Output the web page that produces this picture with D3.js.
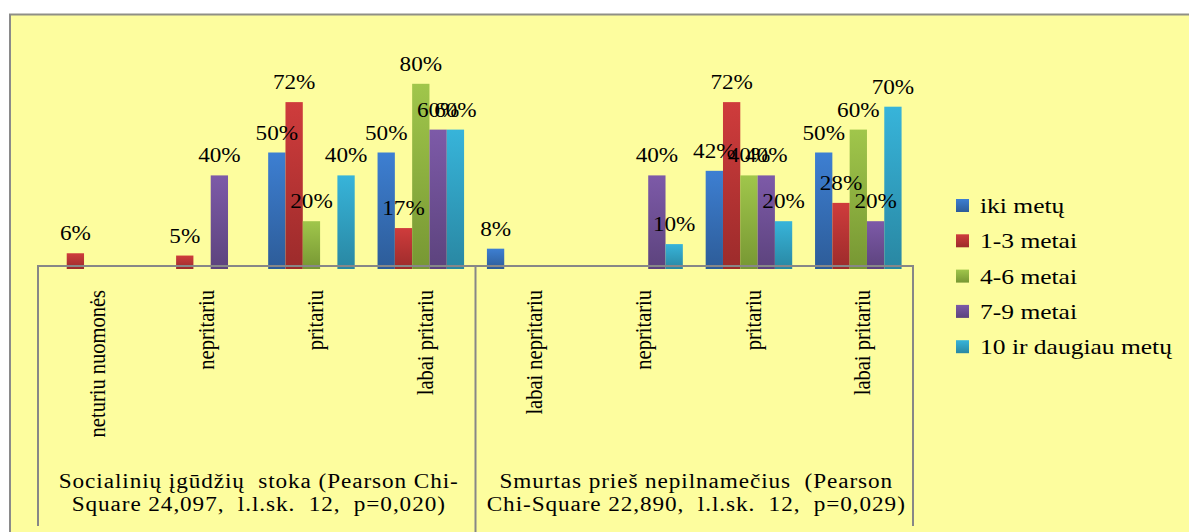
<!DOCTYPE html>
<html>
<head>
<meta charset="utf-8">
<script src="https://cdn.jsdelivr.net/npm/d3@7"></script>
<style>
  body { margin: 0; background: #fff; }
  svg text { font-family: "Liberation Serif", "Times New Roman", serif; fill: #000; }
</style>
</head>
<body>
<div id="chart"></div>
<script>
// chart data
const categories = ["neturiu nuomonės", "nepritariu", "pritariu", "labai pritariu",
                    "labai nepritariu", "nepritariu", "pritariu", "labai pritariu"];
const groupLines = [
  ["Socialinių įgūdžių  stoka (Pearson Chi-", "Square 24,097,  l.l.sk.  12,  p=0,020)"],
  ["Smurtas prieš nepilnamečius  (Pearson", "Chi-Square 22,890,  l.l.sk.  12,  p=0,029)"]
];
const series = ["iki metų", "1-3 metai", "4-6 metai", "7-9 metai", "10 ir daugiau metų"];
const ikiMetu   = [0, 0, 50, 50, 8, 0, 42, 50];
const metai1_3  = [6, 5, 72, 17, 0, 0, 72, 28];
const metai4_6  = [0, 0, 20, 80, 0, 0, 40, 60];
const metai7_9  = [0, 40, 0, 60, 0, 40, 40, 20];
const metai10   = [0, 0, 40, 60, 0, 10, 20, 70];
const seriesValues = [ikiMetu, metai1_3, metai4_6, metai7_9, metai10];

const colors = [
  ["#3d7fd2", "#2d5c98"],
  ["#cf3c3c", "#9c2b2b"],
  ["#a0c64b", "#779733"],
  ["#7d5aa8", "#5c437d"],
  ["#37b4da", "#2987a2"]
];

const W = 1189, H = 532;
const STRETCH = 1.16;
const FONT = "Liberation Serif";

let svg = d3.select("#chart").append("svg")
    .attr("width", W)
    .attr("height", H);

let defs = svg.append("defs");
colors.forEach(function(c, i) {
  let g = defs.append("linearGradient")
      .attr("id", "grad" + i)
      .attr("x1", 0).attr("y1", 0).attr("x2", 0).attr("y2", 1);
  g.append("stop").attr("offset", "0%").attr("stop-color", c[0]);
  g.append("stop").attr("offset", "100%").attr("stop-color", c[1]);
});

// chart area background + border
svg.append("rect")
    .attr("x", 10).attr("y", 15)
    .attr("width", W - 10).attr("height", H - 15)
    .attr("fill", "#fdfd9e");
svg.append("line")
    .attr("x1", 9).attr("x2", W).attr("y1", 14.5).attr("y2", 14.5)
    .attr("stroke", "#8f8f86").attr("stroke-width", 2);
svg.append("line")
    .attr("x1", 10).attr("x2", 10).attr("y1", 14).attr("y2", H)
    .attr("stroke", "#8a8a8a").attr("stroke-width", 2);

let x = d3.scaleBand()
    .domain(d3.range(categories.length))
    .range([38, 913]);

let xs = d3.scaleBand()
    .domain(d3.range(series.length))
    .range([0, x.bandwidth()])
    .paddingOuter(0.66);

let y = d3.scaleLinear()
    .domain([0, 100])
    .range([267, 38]);

// bars
let bars = [];
seriesValues.forEach(function(vals, s) {
  vals.forEach(function(v, c) {
    if (v > 0) bars.push({s: s, c: c, v: v});
  });
});

svg.append("g").selectAll("rect").data(bars).enter()
    .append("rect")
    .attr("x", function(d) { return x(d.c) + xs(d.s); })
    .attr("y", function(d) { return y(d.v); })
    .attr("width", xs.bandwidth())
    .attr("height", function(d) { return y(0) - y(d.v) + 2; })
    .attr("fill", function(d) { return "url(#grad" + d.s + ")"; });

// axis lines
let axisColor = "#878787";
let ax = svg.append("g").attr("stroke", axisColor).attr("stroke-width", 2);
ax.append("line").attr("x1", x.range()[0]).attr("x2", x.range()[1])
    .attr("y1", 266).attr("y2", 266);
[0, 4, 8].forEach(function(i) {
  let xx = i < 8 ? x(i) : x.range()[1];
  ax.append("line").attr("x1", xx).attr("x2", xx)
      .attr("y1", 265).attr("y2", i == 4 ? 532 : 526);
});

// value labels
svg.append("g").selectAll("text").data(bars).enter()
    .append("text")
    .attr("transform", function(d) {
      return `translate(${x(d.c) + xs(d.s) + xs.bandwidth() / 2}, ${y(d.v) - 13}) scale(${STRETCH},1)`;
    })
    .attr("font-family", FONT)
    .style("text-anchor", "middle")
    .style("font-size", "20px")
    .text(function(d) { return d.v + "%"; });

// category labels (rotated)
svg.append("g").selectAll("text").data(categories).enter()
    .append("text")
    .attr("transform", function(d, i) {
      return `translate(${x(i) + x.bandwidth() / 2 + 4}, 290) scale(${STRETCH},1) rotate(-90)`;
    })
    .attr("font-family", FONT)
    .attr("dy", "0.33em")
    .style("text-anchor", "end")
    .style("font-size", "20.5px")
    .text(function(d) { return d; });

// group labels
groupLines.forEach(function(lines, g) {
  let cx = (x(g * 4) + (g == 0 ? x(4) : x.range()[1])) / 2 + 2;
  lines.forEach(function(line, k) {
    svg.append("text")
        .attr("transform", `translate(${cx}, ${488 + k * 23}) scale(${STRETCH},1)`)
        .attr("font-family", FONT)
        .style("text-anchor", "middle")
        .style("font-size", "20px")
        .style("letter-spacing", "0.8px")
        .style("white-space", "pre")
        .text(line);
  });
});

// legend
let legend = svg.append("g").selectAll("g").data(series).enter()
    .append("g")
    .attr("transform", function(d, i) { return `translate(956, ${199 + i * 35.3})`; });
legend.append("rect")
    .attr("width", 13).attr("height", 13)
    .attr("fill", function(d, i) { return "url(#grad" + i + ")"; });
legend.append("text")
    .attr("transform", `translate(24, 14) scale(${STRETCH},1)`)
    .attr("font-family", FONT)
    .style("font-size", "22px")
    .text(function(d) { return d; });
</script>
</body>
</html>
